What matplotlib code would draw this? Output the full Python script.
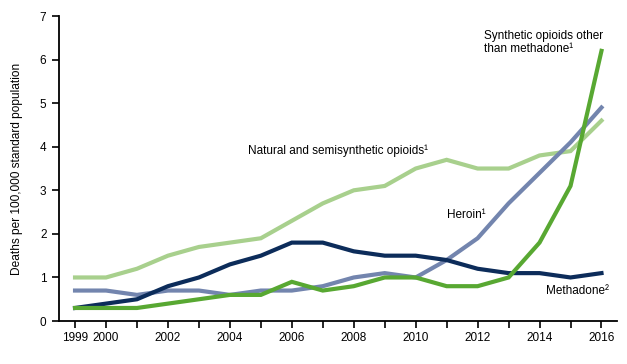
import matplotlib.pyplot as plt
import numpy as np

plt.rcParams['font.family'] = ['Liberation Sans', 'DejaVu Sans']

years = list(range(1999, 2017))
natural = [1.0, 1.0, 1.2, 1.5, 1.7, 1.8, 1.9, 2.3, 2.7, 3.0, 3.1, 3.5, 3.7, 3.5, 3.5, 3.8, 3.9, 4.6]
heroin = [0.7, 0.7, 0.6, 0.7, 0.7, 0.6, 0.7, 0.7, 0.8, 1.0, 1.1, 1.0, 1.4, 1.9, 2.7, 3.4, 4.1, 4.9]
methadone = [0.3, 0.4, 0.5, 0.8, 1.0, 1.3, 1.5, 1.8, 1.8, 1.6, 1.5, 1.5, 1.4, 1.2, 1.1, 1.1, 1.0, 1.1]
synthetic = [0.3, 0.3, 0.3, 0.4, 0.5, 0.6, 0.6, 0.9, 0.7, 0.8, 1.0, 1.0, 0.8, 0.8, 1.0, 1.8, 3.1, 6.2]

tick_years = [1999, 2000, 2002, 2004, 2006, 2008, 2010, 2012, 2014, 2016]

fig = plt.figure(figsize=(6.27, 3.64), dpi=100)
ax = fig.add_axes([0.094, 0.118, 0.89, 0.838])

lw = 3.0
ax.plot(years, natural, color='#a8d08d', lw=lw, solid_joinstyle='miter')
ax.plot(years, heroin, color='#7385ae', lw=lw, solid_joinstyle='miter')
ax.plot(years, methadone, color='#0c2c5a', lw=lw, solid_joinstyle='miter')
ax.plot(years, synthetic, color='#58a832', lw=lw, solid_joinstyle='miter')

ax.set_xlim(1998.48, 2016.5)
ax.set_ylim(0, 7)
ax.set_xticks(years)
ax.set_xticklabels([str(y) if y in tick_years else '' for y in years])
ax.set_yticks(range(0, 8))

ax.spines[['top', 'right']].set_visible(False)
ax.spines[['left', 'bottom']].set_linewidth(1.3)
ax.tick_params(axis='both', length=5, width=1.2, labelsize=8.5, colors='black')
ax.tick_params(axis='x', pad=3)
ax.tick_params(axis='y', pad=4)

ax.set_ylabel('Deaths per 100,000 standard population', fontsize=8.6, labelpad=12)

fs = 8.5
ax.text(2004.6, 3.9, 'Natural and semisynthetic opioids\u00b9', fontsize=fs, va='center', ha='left')
ax.text(2011.0, 2.43, 'Heroin\u00b9', fontsize=fs, va='center', ha='left')
ax.text(2014.2, 0.69, 'Methadone\u00b2', fontsize=fs, va='center', ha='left')
ax.text(2012.2, 6.4, 'Synthetic opioids other\nthan methadone\u00b9', fontsize=fs,
        va='center', ha='left', linespacing=1.1)

fig.savefig('out.png', dpi=100)
